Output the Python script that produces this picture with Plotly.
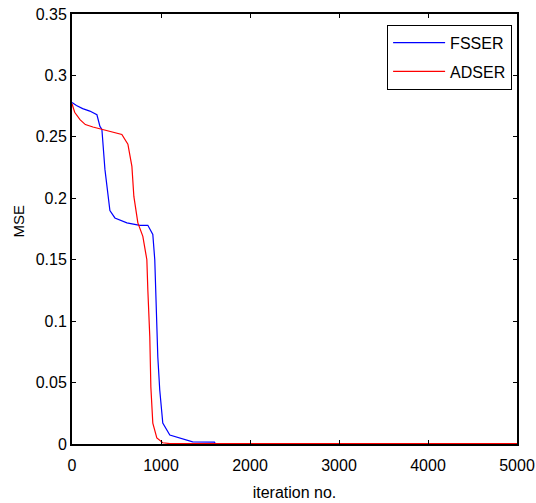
import plotly.graph_objects as go

fsser_iter = [0, 50, 120, 200, 280, 314, 336, 370, 426, 482, 617, 762, 852, 908, 930, 953, 964, 986, 1020, 1099, 1211, 1356, 1600, 1610, 5000]
fsser_mse = [0.278, 0.2755, 0.273, 0.271, 0.268, 0.2585, 0.256, 0.2235, 0.19, 0.184, 0.180, 0.178, 0.178, 0.1705, 0.150, 0.1036, 0.071, 0.044, 0.017, 0.0073, 0.005, 0.0018, 0.0016, 0.0004, 0.0003]

adser_iter = [0, 30, 90, 150, 235, 314, 426, 560, 628, 673, 695, 740, 796, 841, 852, 874, 886, 908, 953, 1020, 1100, 5000]
adser_mse = [0.277, 0.270, 0.264, 0.260, 0.258, 0.2565, 0.2545, 0.252, 0.244, 0.226, 0.2015, 0.180, 0.169, 0.150, 0.1256, 0.0873, 0.0465, 0.017, 0.005, 0.001, 0.0003, 0.0003]

x_ticks = [0, 1000, 2000, 3000, 4000, 5000]
x_labels = ["0", "1000", "2000", "3000", "4000", "5000"]
y_ticks = [0, 0.05, 0.1, 0.15, 0.2, 0.25, 0.3, 0.35]
y_labels = ["0", "0.05", "0.1", "0.15", "0.2", "0.25", "0.3", "0.35"]

font = "Liberation Sans, Arial, sans-serif"

fig = go.Figure()
fig.add_trace(go.Scatter(x=fsser_iter, y=fsser_mse, mode="lines", name="FSSER",
                         legendgroup="a", line=dict(color="#0000ff", width=1.2)))
fig.add_trace(go.Scatter(x=adser_iter, y=adser_mse, mode="lines", name="ADSER",
                         legendgroup="b", line=dict(color="#ff0000", width=1.2)))

axis_common = dict(showline=True, linecolor="black", linewidth=2, mirror="ticks",
                   ticks="inside", ticklen=4, tickcolor="black", tickwidth=1,
                   showgrid=False, zeroline=False, ticklabeloverflow="allow",
                   automargin=False,
                   tickfont=dict(family=font, size=16, color="black"))

fig.update_layout(
    width=536, height=503,
    margin=dict(l=72, r=19, t=14, b=59),
    paper_bgcolor="white", plot_bgcolor="white",
    showlegend=True,
    legend=dict(x=0.989, y=0.975, xanchor="right", yanchor="top",
                bordercolor="black", borderwidth=1, bgcolor="white",
                traceorder="grouped", tracegroupgap=5, itemwidth=52,
                font=dict(family=font, size=16, color="black")),
    xaxis=dict(range=[0, 5000], tickvals=x_ticks, ticktext=x_labels, ticklabelstandoff=6,
               title=dict(text="iteration no.", font=dict(family=font, size=16, color="black"), standoff=14),
               **axis_common),
    yaxis=dict(range=[0, 0.35], tickvals=y_ticks, ticktext=y_labels, **axis_common),
    annotations=[dict(text="MSE", xref="paper", yref="paper", x=-0.1205, y=0.5186,
                      xanchor="center", yanchor="middle", textangle=-90, showarrow=False,
                      font=dict(family=font, size=15, color="black"))],
)

fig.write_html("out.html")
